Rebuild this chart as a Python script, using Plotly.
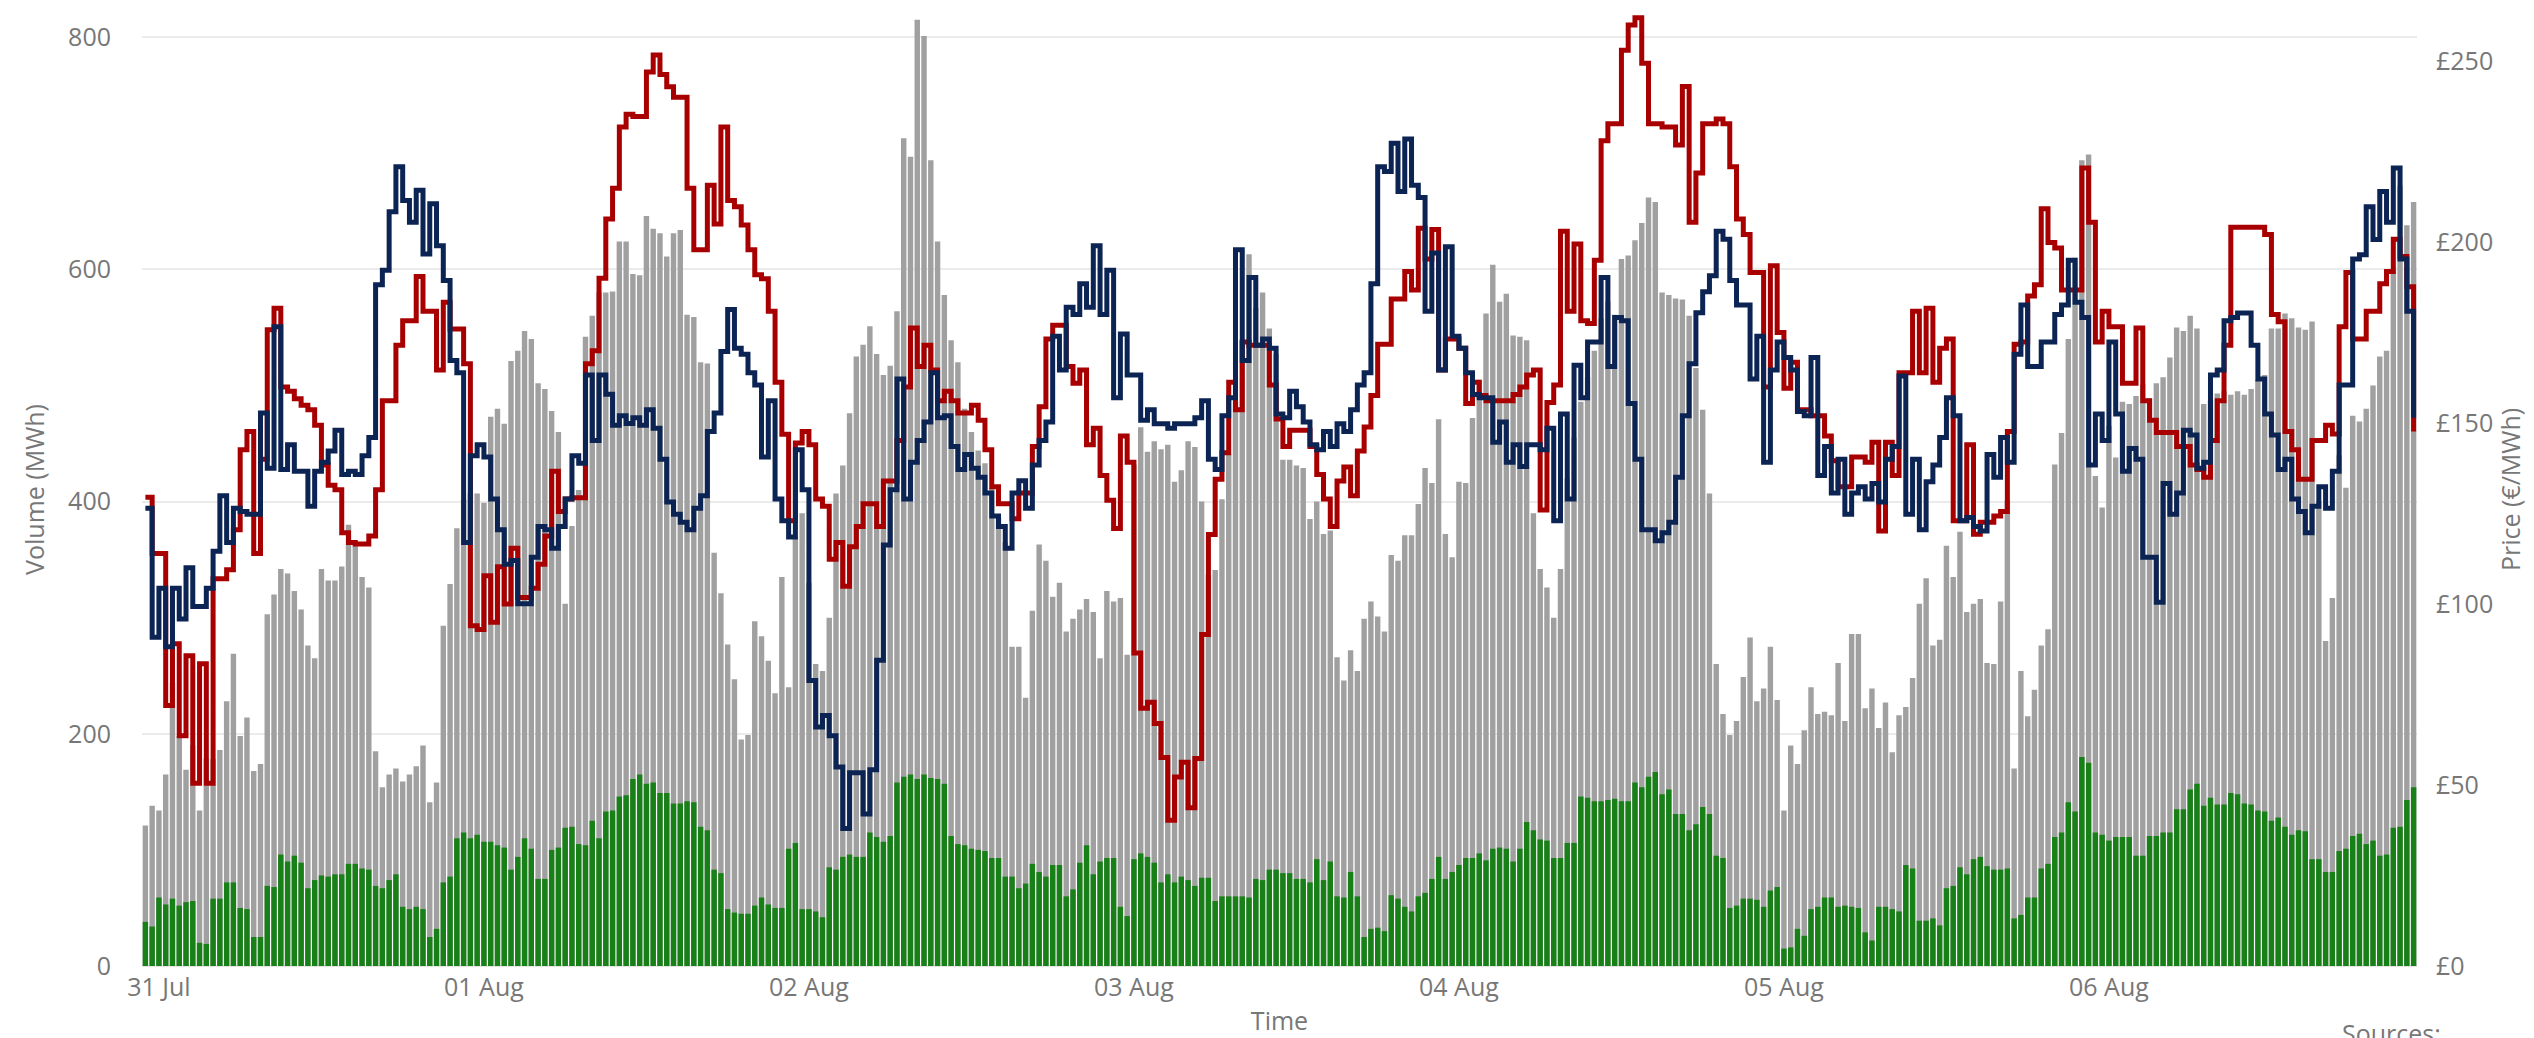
import pandas as pd
import plotly.graph_objects as go

# Half-hourly periods (bar centres)
times = pd.date_range("2022-07-30 23:00", periods=336, freq="30min")

total_volume = [
    121, 138, 134, 165, 244, 198, 169, 190, 134, 179, 178, 186, 228, 269, 198, 214, 168, 174, 303, 320,
    342, 338, 323, 307, 276, 265, 342, 332, 332, 344, 380, 364, 335, 326, 185, 154, 165, 170, 159, 165,
    172, 190, 141, 158, 293, 329, 377, 402, 407, 407, 399, 473, 480, 467, 521, 530, 547, 540, 502, 497,
    478, 460, 312, 379, 410, 542, 560, 580, 580, 581, 624, 624, 596, 595, 646, 635, 631, 611, 631, 634,
    561, 559, 520, 519, 356, 321, 277, 247, 195, 199, 297, 284, 263, 235, 335, 240, 370, 390, 330, 260,
    254, 300, 407, 431, 476, 525, 535, 551, 527, 509, 517, 564, 713, 697, 815, 801, 694, 624, 578, 539,
    520, 480, 460, 444, 433, 412, 386, 365, 275, 275, 231, 306, 363, 349, 318, 330, 288, 299, 307, 316,
    305, 265, 323, 314, 317, 268, 432, 464, 443, 452, 445, 449, 417, 427, 452, 447, 400, 337, 341, 402,
    441, 486, 539, 613, 567, 580, 549, 527, 436, 436, 431, 429, 385, 400, 372, 375, 266, 246, 272, 254,
    299, 314, 301, 288, 354, 349, 371, 371, 398, 429, 416, 471, 372, 352, 417, 416, 472, 505, 562, 604,
    572, 579, 543, 542, 539, 390, 342, 326, 300, 342, 420, 455, 486, 507, 530, 558, 572, 561, 609, 612,
    625, 640, 662, 658, 580, 578, 575, 574, 560, 515, 479, 407, 260, 217, 199, 211, 249, 283, 228, 239,
    275, 229, 134, 190, 174, 203, 240, 217, 219, 216, 261, 211, 286, 286, 222, 239, 205, 227, 184, 216,
    223, 248, 312, 334, 276, 281, 362, 335, 374, 305, 312, 316, 261, 260, 314, 401, 170, 254, 215, 238,
    276, 290, 432, 459, 540, 610, 694, 699, 422, 395, 465, 438, 486, 484, 491, 501, 489, 502, 507, 524,
    550, 547, 560, 549, 484, 487, 493, 495, 492, 495, 492, 497, 505, 509, 549, 549, 562, 558, 550, 548,
    555, 400, 280, 317, 440, 412, 474, 469, 480, 500, 525, 530, 600, 672, 638, 658,
]

green_volume = [
    38, 34, 59, 53, 58, 52, 55, 56, 20, 19, 58, 58, 72, 72, 50, 49, 25, 25, 69, 68,
    96, 90, 95, 89, 67, 74, 78, 77, 79, 79, 88, 88, 84, 83, 69, 67, 74, 79, 51, 49,
    51, 49, 25, 32, 72, 77, 110, 115, 110, 113, 107, 107, 104, 102, 83, 94, 110, 101, 75, 75,
    100, 102, 119, 120, 105, 104, 125, 110, 133, 134, 146, 147, 161, 165, 157, 158, 149, 149, 140, 140,
    142, 141, 120, 117, 83, 80, 49, 46, 45, 45, 52, 59, 53, 50, 50, 101, 106, 49, 49, 47,
    42, 85, 83, 94, 96, 94, 94, 115, 111, 107, 112, 158, 163, 165, 161, 165, 162, 161, 157, 112,
    105, 104, 101, 100, 99, 93, 93, 77, 77, 67, 71, 88, 81, 77, 87, 87, 60, 66, 89, 104,
    79, 90, 93, 93, 51, 43, 92, 97, 94, 89, 72, 79, 72, 77, 74, 69, 76, 76, 56, 60,
    60, 60, 60, 59, 75, 74, 83, 83, 80, 80, 75, 75, 72, 92, 74, 90, 60, 59, 81, 60,
    25, 32, 33, 30, 61, 58, 51, 47, 60, 63, 75, 94, 75, 81, 87, 93, 93, 97, 91, 101,
    102, 101, 90, 101, 124, 117, 109, 108, 93, 93, 106, 106, 146, 145, 142, 142, 143, 144, 142, 142,
    158, 154, 163, 167, 148, 152, 131, 131, 117, 122, 137, 131, 95, 93, 50, 52, 58, 58, 57, 51,
    65, 68, 15, 16, 32, 26, 49, 51, 59, 59, 51, 52, 51, 50, 29, 22, 51, 51, 49, 47,
    87, 84, 39, 39, 41, 35, 67, 69, 85, 79, 92, 94, 86, 83, 83, 84, 41, 44, 59, 59,
    84, 88, 111, 115, 141, 133, 180, 175, 115, 113, 108, 111, 111, 111, 95, 95, 112, 112, 115, 115,
    135, 135, 152, 157, 138, 145, 139, 139, 149, 148, 140, 139, 134, 133, 125, 128, 120, 113, 117, 116,
    92, 92, 81, 81, 99, 101, 112, 114, 105, 108, 95, 96, 119, 120, 143, 154,
]

price_red = [
    129.5, 114, 114, 72, 89, 63.6, 85.7, 50.5, 83.5, 50.5, 107, 107, 109.5, 120.5, 142.6, 147.7, 114, 140, 175.8, 181.7,
    160, 158.8, 156.7, 154.9, 153.7, 149.4, 138.4, 132.8, 131.6, 119.7, 117, 116.6, 116.6, 118.8, 131.6, 156.2, 156.2, 171.5, 178.3, 178.3,
    190.5, 180.9, 180.9, 164.7, 183.4, 176, 176, 166.4, 94, 93, 107.8, 95, 110.3, 100, 115.4, 101.8, 101.8, 104.4, 111, 118.8,
    136.7, 125.6, 129, 129.4, 129.4, 166.4, 170, 190, 206.4, 214.9, 231.8, 235.3, 234.7, 234.7, 247, 251.7, 246.3, 242.9, 240, 240,
    214.9, 197.9, 197.9, 215.7, 205, 231.8, 211.5, 209.8, 204.7, 197.9, 191, 189.9, 180.9, 161.3, 146.9, 123, 144.5, 147.7, 144, 129,
    127, 112.4, 117, 104.9, 115.8, 121.4, 127.7, 127.7, 121.4, 134, 134, 145.2, 160, 176.3, 165.6, 171.5, 164.7, 156.2, 158.8, 156.2,
    152.8, 152.8, 154.9, 150.8, 142.6, 132.4, 127.7, 127.7, 123.6, 130.7, 130.7, 143.5, 154.5, 173.2, 177, 177, 165.6, 161, 164.7, 144,
    148.6, 135.5, 128.7, 120.9, 146.4, 139.2, 86.5, 71.2, 72.9, 67, 57.6, 40.3, 52.2, 56.3, 43.7, 57.3, 91.6, 119.2, 134.5, 141.8,
    161.3, 153.7, 172.4, 171.5, 171.5, 171.5, 160.5, 151.1, 143.5, 148, 148, 148, 143.5, 135.8, 129, 121.4, 134, 137.9, 129.9, 142.3,
    148.9, 157.6, 171.8, 171.8, 184.3, 184.3, 191.9, 186.8, 203.8, 195.3, 203.5, 164.7, 173.2, 173.2, 170.7, 155.4, 161.3, 157.6, 156.2, 156.2,
    156.2, 156.2, 157.9, 160, 163.3, 164.7, 126, 155.7, 160.5, 203, 180.9, 199.5, 178.3, 177.5, 195, 228, 232.7, 232.7, 253, 260,
    262, 249.4, 232.7, 232.7, 231.8, 231.8, 226.8, 243, 205.5, 219.1, 232.7, 232.7, 234, 232.7, 220.8, 206.4, 202.1, 191.6, 191.6, 160,
    193.5, 175, 159.6, 166.8, 153.7, 153.7, 152, 152, 146.4, 139.6, 132.4, 132.4, 140.6, 140.6, 139.2, 144.7, 120.2, 144.7, 135.5, 163.9,
    163.9, 180.9, 163.9, 181.7, 161.3, 170.7, 173.2, 123, 123, 144, 119.3, 122.6, 122.6, 124.3, 125.6, 147.7, 171.8, 172.4, 185.1, 188.2,
    209.2, 199.9, 198.4, 186.8, 186.8, 186.8, 220.5, 205.5, 172.4, 180.9, 176.6, 176.6, 161, 161, 176.3, 156.2, 150.8, 147.4, 147.4, 147.4,
    143.5, 143.5, 138.4, 137.2, 135, 145.2, 156.2, 171.5, 204.1, 204.1, 204.1, 204.1, 204.1, 202.1, 180, 178, 147.7, 142.6, 134.5, 134.5,
    145.2, 145.2, 149.4, 147, 176.6, 191.6, 173.2, 173.2, 180.9, 180.9, 188.5, 191.9, 200.8, 196, 187.7, 147.7,
]

price_navy = [
    126.5, 90.8, 104.4, 88.2, 104.4, 95.9, 110, 99.3, 99.3, 104.4, 114.6, 129.9, 117, 126.5, 125.6, 124.8, 124.8, 152.8, 137.5, 176.6,
    137.2, 144, 136.7, 136.7, 127, 136.7, 139.2, 142.3, 148, 135.8, 136.7, 135.8, 141, 146, 188.2, 192.2, 208.4, 220.8, 211.5, 205.5,
    214.3, 196.7, 210.6, 199, 189.4, 167.3, 163.9, 117, 141, 144, 140.6, 129, 120.5, 111, 112, 100.1, 100.1, 112.9, 121.4, 120.5,
    115.4, 121.4, 129, 141, 138.9, 163.3, 145.2, 163.3, 158, 149.4, 152, 149.9, 151.5, 149.4, 153.7, 148.6, 140, 128.2, 124.8, 122.6,
    120.5, 126.5, 129.9, 147.7, 152.8, 169.8, 181.4, 170.7, 169, 163.9, 160.5, 140.6, 156.2, 129, 123, 118.5, 142.6, 131.6, 78.9, 66,
    69.2, 63.6, 55, 38, 53.4, 53.4, 42, 54.2, 84.5, 116.3, 131.6, 162.2, 129, 139.2, 145.2, 150.3, 163.9, 151.5, 152, 143.5,
    137.2, 141.3, 137.5, 135, 130.7, 124.3, 121.4, 115.4, 130.7, 134.1, 126.5, 138.4, 145.2, 150.3, 174, 164.7, 182, 180, 188.5, 182,
    199, 180, 192.2, 157, 174.6, 163.3, 163.3, 150.8, 153.7, 149.8, 149.8, 148.6, 149.8, 149.8, 149.8, 151.5, 156.2, 140, 137.2, 152,
    157, 197.9, 167.3, 190.2, 171.5, 173.2, 170.7, 152.5, 151.5, 158.8, 154.5, 150.3, 144, 142.6, 147.7, 143.5, 149.8, 147.7, 153.7, 160.5,
    163.9, 188.5, 220.8, 219.5, 227.3, 214, 228.5, 215.7, 212.3, 180.9, 197, 164.7, 198.7, 174, 170.7, 163.9, 157.9, 157, 157, 144.7,
    150.3, 139.2, 144, 138, 144, 144, 142.6, 148.6, 123, 152.5, 129, 166, 157, 172.4, 172.4, 190.2, 165.6, 179.2, 178.3, 155.4,
    140, 120.5, 120.5, 117.5, 119.7, 122.6, 135, 152, 166.4, 180.5, 186.3, 190.7, 203, 200.8, 189.4, 182.6, 182.6, 162.2, 174, 139.2,
    164.7, 172.4, 168.1, 164.7, 153.2, 152, 168.1, 135.5, 143.5, 130.7, 140, 124.8, 130.7, 132.4, 129, 133.3, 128.2, 140, 143.5, 163,
    124.8, 140, 120.5, 133.8, 138.4, 146, 157, 152, 123, 123.9, 121.4, 120.2, 141.3, 135, 146, 139.2, 169, 182.6, 165.6, 165.6,
    172.4, 172.4, 180, 182.6, 195, 183.4, 179.2, 138.4, 152.5, 145.2, 172.4, 152.5, 136.7, 143, 140, 112.9, 112.9, 100.5, 133.3, 124.8,
    130.7, 148, 146.7, 137.5, 139.2, 163.3, 164.7, 178.3, 179.2, 180.4, 180.4, 171.5, 162.2, 152.5, 146.7, 137.2, 140, 129, 125.6, 119.7,
    127, 132.4, 126.5, 136.7, 160.5, 160.5, 195.3, 196.5, 209.8, 200.7, 214, 205.5, 220.5, 195.3, 180.9, 151.5,
]

left_ticks = [0, 200, 400, 600, 800]
right_ticks = [0, 50, 100, 150, 200, 250]
right_labels = ["£" + str(v) for v in right_ticks]

FONT = "Open Sans"
TXT = "#777777"
TICK_SIZE = 25
TITLE_SIZE = 25

half = pd.Timedelta(minutes=15)

fig = go.Figure()
fig.add_trace(go.Bar(x=times, y=total_volume, marker=dict(color="#a0a0a0", line=dict(width=0)),
                     name="Total volume", yaxis="y"))
fig.add_trace(go.Bar(x=times, y=green_volume, marker=dict(color="#178017", line=dict(width=0)),
                     name="Volume", yaxis="y"))
fig.add_trace(go.Scatter(x=times, y=price_red, mode="lines", line=dict(color="#a80000", width=5, shape="hv"),
                         name="Price A", yaxis="y2"))
fig.add_trace(go.Scatter(x=times, y=price_navy, mode="lines", line=dict(color="#0b2454", width=5, shape="hv"),
                         name="Price B", yaxis="y2"))

fig.update_layout(
    width=2534, height=1038,
    margin=dict(l=134, r=125, t=5, b=80),
    paper_bgcolor="white", plot_bgcolor="white",
    barmode="overlay", bargap=0.2,
    showlegend=False,
    font=dict(family=FONT, color=TXT, size=TICK_SIZE),
    xaxis=dict(
        type="date",
        range=[times[0] - half, times[-1] + half],
        tickformat="%d %b", dtick=86400000, tick0="2022-07-31",
        showgrid=False, zeroline=False, showline=False,
        ticks="", ticklabelstandoff=4,
        tickfont=dict(size=TICK_SIZE, color=TXT, family=FONT),
        title=dict(text="Time", font=dict(size=TITLE_SIZE, color=TXT, family=FONT), standoff=10),
    ),
    yaxis=dict(
        range=[0, 820.8], tickvals=left_ticks,
        showgrid=True, gridcolor="#ebebeb", gridwidth=1.5,
        zeroline=True, zerolinecolor="#e6e6e6", zerolinewidth=2,
        ticks="", ticklabelstandoff=30,
        tickfont=dict(size=TICK_SIZE, color=TXT, family=FONT),
        title=dict(text="Volume (MWh)", font=dict(size=TITLE_SIZE, color=TXT, family=FONT), standoff=16),
    ),
    yaxis2=dict(
        overlaying="y", side="right",
        range=[0, 263.3], tickvals=right_ticks, ticktext=right_labels,
        showgrid=False, zeroline=False,
        ticks="", ticklabelstandoff=18,
        tickfont=dict(size=TICK_SIZE, color=TXT, family=FONT),
        title=dict(text="Price (€/MWh)", font=dict(size=TITLE_SIZE, color=TXT, family=FONT), standoff=4),
    ),
    annotations=[dict(text="Sources:", xref="paper", yref="paper", x=0.966, y=-0.05,
                      xanchor="left", yanchor="top", showarrow=False,
                      font=dict(size=TICK_SIZE, color=TXT, family=FONT))],
)

fig.write_html("out.html")
